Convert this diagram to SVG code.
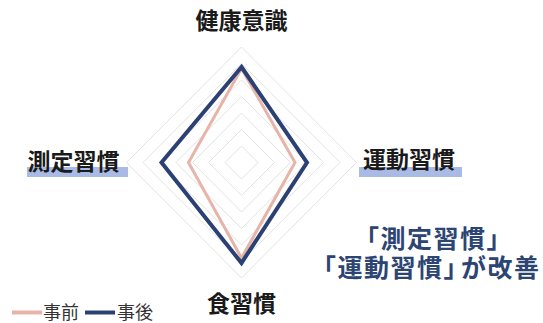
<svg xmlns="http://www.w3.org/2000/svg" width="543" height="323" viewBox="0 0 543 323">
<style>
.grid{fill:none;stroke:#e3e3e3;stroke-width:1}
.lbl{font-family:"Noto Sans CJK JP","Noto Sans CJK SC",sans-serif;font-weight:bold;font-size:23px;fill:#1a1a1a;text-anchor:middle}
.hl{fill:#9aafdf;opacity:0.85}
.note{font-family:"Noto Sans CJK JP","Noto Sans CJK SC",sans-serif;font-weight:bold;font-size:25px;letter-spacing:1.5px;fill:#2c4573}
.leg{font-family:"Noto Sans CJK JP","Noto Sans CJK SC",sans-serif;font-size:18px;fill:#333;}
.before{fill:none;stroke:#e6b4a8;stroke-width:3;stroke-linejoin:miter}
.after{fill:none;stroke:#2c4173;stroke-width:4;stroke-linejoin:miter}
</style>
<rect width="543" height="323" fill="#fff"/>
<g id="grid">
<polygon class="grid" points="241.5,47 356.5,162.5 241.5,278 126.5,162.5"/>
<polygon class="grid" points="241.5,63.5 340,162.5 241.5,261.5 143,162.5"/>
<polygon class="grid" points="241.5,80 323.5,162.5 241.5,245 159.5,162.5"/>
<polygon class="grid" points="241.5,96.5 307,162.5 241.5,228.5 176,162.5"/>
<polygon class="grid" points="241.5,113 290.5,162.5 241.5,212 192.5,162.5"/>
<polygon class="grid" points="241.5,129.5 274.5,162.5 241.5,195.5 208.5,162.5"/>
<polygon class="grid" points="241.5,146 258,162.5 241.5,179 225,162.5"/>
</g>
<g id="connectors">
<polygon id="series-before" class="before" points="241.5,68.5 295,162.5 241.5,258 188.5,162.5"/>
<polygon id="series-after" class="after" points="241.5,67 307,162.5 241.5,263 161.5,162.5"/>
</g>
<g id="node-kenkou"><text class="lbl" x="241.5" y="29">健康意識</text></g>
<g id="node-sokutei"><rect class="hl" x="27" y="167" width="101" height="10"/><text class="lbl" x="73.5" y="170">測定習慣</text></g>
<g id="node-undou"><rect class="hl" x="359" y="167" width="103" height="10"/><text class="lbl" x="409" y="168">運動習慣</text></g>
<g id="node-shoku"><text class="lbl" x="241.5" y="312">食習慣</text></g>
<g id="note">
<text class="note" x="354" y="247.5">「測定習慣」</text>
<text class="note" x="311" y="276.5">「運動習慣」<tspan dx="-9">が改善</tspan></text>
</g>
<g id="legend">
<line x1="12" y1="312.5" x2="42" y2="312.5" stroke="#e6b4a8" stroke-width="4"/>
<text class="leg" x="43" y="319">事前</text>
<line x1="85" y1="312.5" x2="115" y2="312.5" stroke="#2c4173" stroke-width="4"/>
<text class="leg" x="117" y="319">事後</text>
</g>
</svg>
